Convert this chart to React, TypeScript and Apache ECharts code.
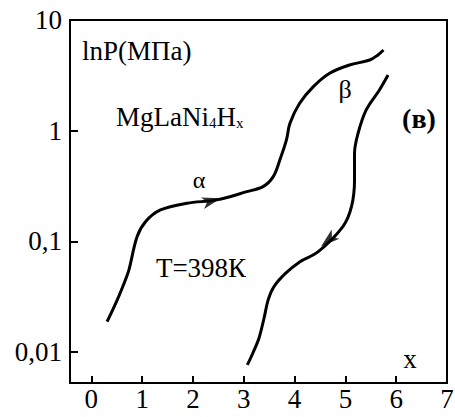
import React, { useEffect, useRef } from "react";
import * as echarts from "echarts";

// Absorption curve (α → β), x vs P (MPa)
const absX = [0.31, 0.51, 0.67, 0.74, 0.9, 1.07, 1.36, 1.88, 2.47, 3.06, 3.38, 3.58, 3.71, 3.84, 3.91, 4.1, 4.37, 4.69, 5.08, 5.48, 5.64, 5.75];
const absP = [0.0188, 0.0296, 0.0448, 0.0552, 0.11, 0.151, 0.192, 0.221, 0.237, 0.281, 0.312, 0.384, 0.543, 0.824, 1.17, 1.77, 2.5, 3.3, 3.92, 4.35, 4.83, 5.36];

// Desorption curve (from top right to bottom)
const desX = [5.84, 5.67, 5.41, 5.25, 5.18, 5.18, 5.12, 4.95, 4.46, 4.1, 3.81, 3.59, 3.48, 3.4, 3.3, 3.18, 3.07];
const desP = [3.18, 2.33, 1.54, 0.948, 0.625, 0.359, 0.206, 0.136, 0.0802, 0.0652, 0.0508, 0.0387, 0.0296, 0.0203, 0.0134, 0.0098, 0.00764];

// Direction arrows on the curves
const arrowX = [2.55, 4.52];
const arrowP = [0.245, 0.09];
const arrowAngle = [-75, 130];

const xTicks = [0, 1, 2, 3, 4, 5, 6, 7];
const yTicks = [0.01, 0.1, 1, 10];

const FONT = "Liberation Serif, Times New Roman, serif";

export default function App() {
  const ref = useRef<HTMLDivElement>(null);
  useEffect(() => {
    if (!ref.current) return;
    const chart = echarts.init(ref.current, null, { renderer: "svg" });
    const txt = (x: number, y: number, text: string, extra: any = {}) => ({
      type: "text",
      x,
      y,
      style: {
        text,
        fill: "#000",
        fontFamily: FONT,
        fontSize: 27,
        align: "left",
        verticalAlign: "middle",
        ...extra,
      },
    });
    chart.setOption({
      animation: false,
      backgroundColor: "#fff",
      textStyle: { fontFamily: FONT },
      grid: {
        left: 70,
        right: 8,
        top: 20,
        bottom: 34,
        show: true,
        borderColor: "#000",
        borderWidth: 2,
        backgroundColor: "transparent",
        outerBoundsMode: "none",
      },
      xAxis: {
        type: "value",
        min: -0.42,
        max: 7,
        splitLine: { show: false },
        axisLine: { show: true, onZero: false, lineStyle: { color: "#000", width: 2 } },
        axisTick: {
          show: true,
          inside: true,
          length: 7,
          lineStyle: { color: "#000", width: 2 },
          customValues: xTicks.slice(0, 7),
        },
        axisLabel: {
          color: "#000",
          fontFamily: FONT,
          fontSize: 27,
          margin: 2,
          customValues: xTicks,
          showMinLabel: true,
          showMaxLabel: true,
        },
      },
      yAxis: {
        type: "log",
        logBase: 10,
        min: 0.005248,
        max: 10,
        splitLine: { show: false },
        axisLine: { show: true, onZero: false, lineStyle: { color: "#000", width: 2 } },
        axisTick: {
          show: true,
          inside: true,
          length: 8,
          lineStyle: { color: "#000", width: 2 },
          customValues: yTicks.slice(0, 3),
        },
        axisLabel: {
          color: "#000",
          fontFamily: FONT,
          fontSize: 27,
          margin: 8,
          customValues: yTicks,
          showMinLabel: true,
          showMaxLabel: true,
          formatter: (v: number) => String(v).replace(".", ","),
        },
      },
      series: [
        {
          type: "line",
          data: absX.map((x, i) => [x, absP[i]]),
          showSymbol: false,
          smooth: 0.35,
          lineStyle: { color: "#000", width: 3 },
          itemStyle: { color: "#000" },
        },
        {
          type: "line",
          data: desX.map((x, i) => [x, desP[i]]),
          showSymbol: false,
          smooth: 0.35,
          lineStyle: { color: "#000", width: 3 },
          itemStyle: { color: "#000" },
        },
        {
          type: "scatter",
          symbol: "arrow",
          symbolSize: [9, 19],
          itemStyle: { color: "#000" },
          data: arrowX.map((x, i) => ({ value: [x, arrowP[i]], symbolRotate: arrowAngle[i] })),
        },
      ],
      graphic: [
        txt(82, 51, "lnP(МПа)"),
        {
          type: "text",
          x: 116,
          y: 116.6,
          style: {
            text: "MgLaNi{s|4}H{s|x}",
            fill: "#000",
            fontFamily: FONT,
            fontSize: 27,
            align: "left",
            verticalAlign: "middle",
            rich: {
              s: { fontFamily: FONT, fontSize: 15, fill: "#000", verticalAlign: "bottom" },
            },
          },
        },
        txt(199, 180, "α", { align: "center", fontSize: 24 }),
        txt(345, 89, "β", { align: "center", fontSize: 26 }),
        txt(419, 118, "(в)", { align: "center", fontSize: 28, fontWeight: "bold" }),
        txt(201, 268, "T=398К", { align: "center" }),
        txt(410, 359, "x", { align: "center" }),
      ],
    });
    return () => chart.dispose();
  }, []);
  return <div ref={ref} style={{ position: "fixed", left: 0, top: 0, width: 455, height: 417 }} />;
}
